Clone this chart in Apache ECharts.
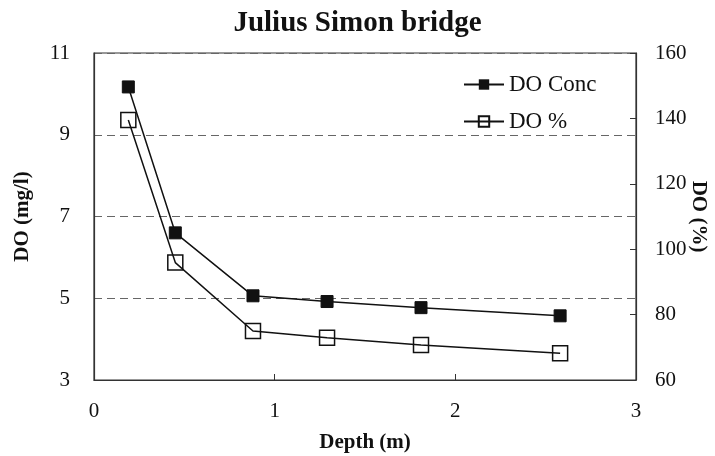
<!DOCTYPE html>
<html>
<head>
<meta charset="utf-8">
<script src="https://cdn.jsdelivr.net/npm/echarts@6/dist/echarts.min.js"></script>
<style>
  html, body { margin: 0; padding: 0; background: #fff; overflow: hidden; }
  #chart { width: 715px; height: 456px; }
</style>
</head>
<body>
<div id="chart"></div>
<script>
// depth (m) of each sample
const depth = [0.19, 0.45, 0.88, 1.29, 1.81, 2.58]
// dissolved oxygen, mg/l (left axis)
const doConc = [10.17, 6.6, 5.06, 4.92, 4.77, 4.57]
// dissolved oxygen saturation, % (right axis)
const doPct = [139.5, 95.9, 75.0, 72.9, 70.7, 68.2]

const seriesNames = ['DO Conc', 'DO %']

const serif = '"Liberation Serif", "Times New Roman", serif'
const ink = '#111'

let myChart = echarts.init(document.getElementById('chart'))
let option = {
  backgroundColor: '#fff',
  animation: false,
  textStyle: { fontFamily: serif, color: ink },
  title: {
    text: 'Julius Simon bridge',
    left: 'center',
    top: 4,
    textStyle: { fontFamily: serif, fontWeight: 'bold', fontSize: 29, color: ink }
  },
  legend: {
    orient: 'vertical',
    left: 463,
    top: 73,
    padding: 0,
    itemWidth: 40,
    itemHeight: 13,
    itemGap: 14,
    textStyle: { fontFamily: serif, fontSize: 23, color: ink },
    data: seriesNames
  },
  grid: {
    left: 94,
    right: 79,
    top: 53,
    bottom: 76,
    outerBoundsMode: 'none',
    show: true,
    borderColor: '#333',
    borderWidth: 1.2
  },
  xAxis: {
    type: 'value',
    min: 0,
    max: 3,
    interval: 1,
    name: 'Depth (m)',
    nameLocation: 'middle',
    nameGap: 52,
    nameMoveOverlap: false,
    nameTextStyle: { fontFamily: serif, fontWeight: 'bold', fontSize: 21, color: ink },
    axisLine: { show: true, lineStyle: { color: '#333', width: 1.2 } },
    axisTick: { show: true, inside: true, length: 6, lineStyle: { color: '#333' } },
    axisLabel: { fontFamily: serif, fontSize: 21, color: ink, margin: 21 },
    splitLine: { show: false }
  },
  yAxis: [
    {
      type: 'value',
      position: 'left',
      min: 3,
      max: 11,
      interval: 2,
      name: 'DO (mg/l)',
      nameLocation: 'middle',
      nameGap: 61,
      nameMoveOverlap: false,
      nameTextStyle: { fontFamily: serif, fontWeight: 'bold', fontSize: 21, color: ink },
      axisLine: { show: true, lineStyle: { color: '#333', width: 1.2 } },
      axisTick: { show: false },
      axisLabel: { fontFamily: serif, fontSize: 21, color: ink, margin: 24 },
      splitLine: {
        show: true,
        lineStyle: { type: [8, 5], color: '#666', width: 1.2 }
      }
    },
    {
      type: 'value',
      position: 'right',
      min: 60,
      max: 160,
      interval: 20,
      name: 'DO (%)',
      nameLocation: 'middle',
      nameRotate: -90,
      nameGap: 52,
      nameMoveOverlap: false,
      nameTextStyle: { fontFamily: serif, fontWeight: 'bold', fontSize: 21, color: ink },
      axisLine: { show: true, lineStyle: { color: '#333', width: 1.2 } },
      axisTick: { show: true, inside: true, length: 6, lineStyle: { color: '#333' } },
      axisLabel: { fontFamily: serif, fontSize: 21, color: ink, margin: 19 },
      splitLine: { show: false }
    }
  ],
  series: [
    {
      name: seriesNames[0],
      type: 'line',
      yAxisIndex: 0,
      symbol: 'rect',
      symbolSize: 12,
      lineStyle: { color: ink, width: 1.5 },
      itemStyle: { color: ink, borderColor: ink },
      data: depth.map((d, i) => [d, doConc[i]])
    },
    {
      name: seriesNames[1],
      type: 'line',
      yAxisIndex: 1,
      symbol: 'rect',
      symbolSize: 15,
      lineStyle: { color: ink, width: 1.5 },
      itemStyle: { color: 'rgba(255,255,255,0)', borderColor: ink, borderWidth: 1.5 },
      data: depth.map((d, i) => [d, doPct[i]])
    }
  ]
}
myChart.setOption(option)
</script>
</body>
</html>
